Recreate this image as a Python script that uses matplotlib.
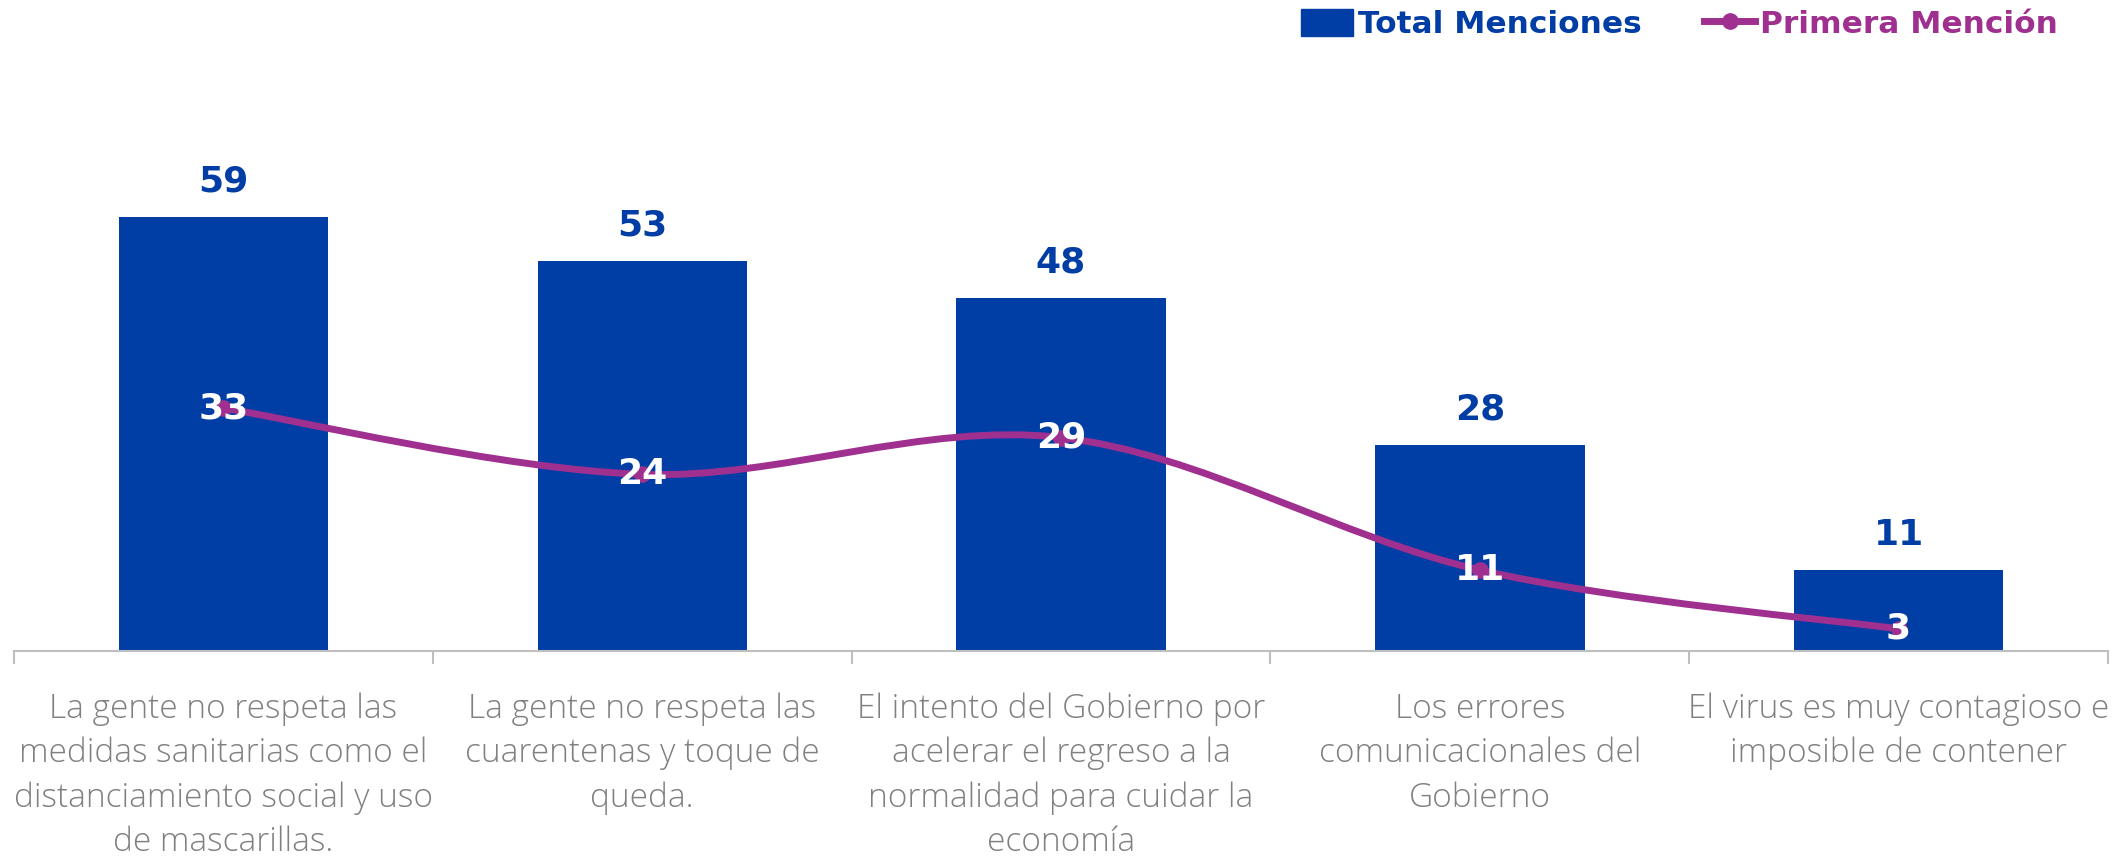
import matplotlib
matplotlib.use("Agg")
import matplotlib.pyplot as plt
from matplotlib.path import Path
from matplotlib.patches import PathPatch, Patch
from matplotlib.lines import Line2D
import numpy as np

categories = [
    "La gente no respeta las\nmedidas sanitarias como el\ndistanciamiento social y uso\nde mascarillas.",
    "La gente no respeta las\ncuarentenas y toque de\nqueda.",
    "El intento del Gobierno por\nacelerar el regreso a la\nnormalidad para cuidar la\neconomía",
    "Los errores\ncomunicacionales del\nGobierno",
    "El virus es muy contagioso e\nimposible de contener",
]
total_menciones = [59, 53, 48, 28, 11]
primera_mencion = [33, 24, 29, 11, 3]
series_names = ["Total Menciones", "Primera Mención"]

BLUE = "#003DA5"
PURPLE = "#A0308F"
GRAY_TXT = "#808080"
AXIS_GRAY = "#BFBFBF"

W, H = 2128, 863
fig = plt.figure(figsize=(W / 100, H / 100), dpi=100)
ax = fig.add_axes([14 / W, (H - 651) / H, (2108 - 14) / W, 60 * 7.36 / H])

x = np.arange(len(categories))
bars = ax.bar(x, total_menciones, width=0.5, color=BLUE, zorder=2)
ax.set_xlim(-0.5, len(categories) - 0.5)
ax.set_ylim(0, 60)

# Excel-style smoothed line through the points (Bezier, tension 1/6)
pts = list(zip(x.astype(float), primera_mencion))
verts = [pts[0]]
codes = [Path.MOVETO]
n = len(pts)
for i in range(n - 1):
    p0 = np.array(pts[i - 1] if i > 0 else pts[i])
    p1 = np.array(pts[i])
    p2 = np.array(pts[i + 1])
    p3 = np.array(pts[i + 2] if i + 2 < n else pts[i + 1])
    c1 = p1 + (p2 - p0) / 6.0
    c2 = p2 - (p3 - p1) / 6.0
    verts += [tuple(c1), tuple(c2), tuple(p2)]
    codes += [Path.CURVE4] * 3
ax.add_patch(PathPatch(Path(verts, codes), facecolor="none", edgecolor=PURPLE,
                       lw=5, capstyle="round", zorder=3))
ax.plot(x, primera_mencion, linestyle="none", marker="o", ms=11, color=PURPLE, zorder=4)

val_font = dict(family="DejaVu Sans", fontweight="bold")
for xi, v in zip(x, total_menciones):
    ax.annotate(str(v), (xi, v), xytext=(0, 13), textcoords="offset points",
                ha="center", va="bottom", color=BLUE, fontsize=26, **val_font)
for xi, v in zip(x, primera_mencion):
    ax.annotate(str(v), (xi, v), xytext=(0, 0), textcoords="offset points",
                ha="center", va="center", color="white", fontsize=26, zorder=5, **val_font)

for s in ["top", "right", "left"]:
    ax.spines[s].set_visible(False)
ax.spines["bottom"].set_color(AXIS_GRAY)
ax.spines["bottom"].set_linewidth(1.5)
ax.set_yticks([])
ax.set_xticks(x)
ax.set_xticklabels(categories, fontsize=24, color=GRAY_TXT, family="Open Sans",
                   fontweight="light", linespacing=1.42)
ax.tick_params(axis="x", which="major", length=0, pad=30)
ax.set_xticks(np.arange(-0.5, len(categories)), minor=True)
ax.tick_params(axis="x", which="minor", length=9, width=1.5, color=AXIS_GRAY, direction="out")

handles = [Patch(facecolor=BLUE, edgecolor=BLUE),
           Line2D([0], [0], color=PURPLE, lw=5, marker="o", ms=11)]
leg = fig.legend(handles, series_names, loc="upper right", bbox_to_anchor=(2086 / W, 1.022),
                 ncol=2, frameon=False, handlelength=1.65, handleheight=0.95,
                 handletextpad=0.15, columnspacing=2.0,
                 prop=dict(family="DejaVu Sans", weight="bold", size=22.5))
for t, c in zip(leg.get_texts(), [BLUE, PURPLE]):
    t.set_color(c)

fig.savefig("out.png", dpi=100)
